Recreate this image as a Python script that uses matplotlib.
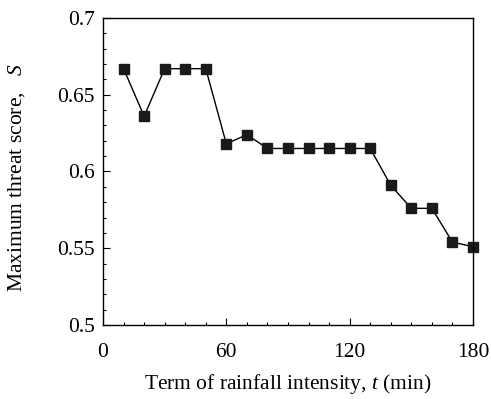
import matplotlib
matplotlib.use('Agg')
import matplotlib.pyplot as plt
from matplotlib.ticker import MultipleLocator

# Maximum threat score vs term of rainfall intensity
terms = [10, 20, 30, 40, 50, 60, 70, 80, 90, 100, 110, 120, 130, 140, 150, 160, 170, 180]
scores = [0.667, 0.636, 0.667, 0.667, 0.667, 0.618, 0.624, 0.615, 0.615, 0.615,
          0.615, 0.615, 0.615, 0.591, 0.576, 0.576, 0.554, 0.551]

plt.rcParams['font.family'] = ['Liberation Serif', 'DejaVu Serif']
plt.rcParams['mathtext.fontset'] = 'custom'
plt.rcParams['mathtext.rm'] = 'Liberation Serif'
plt.rcParams['mathtext.it'] = 'Liberation Serif:italic'

fig = plt.figure(figsize=(4.91, 3.99), dpi=100)
ax = fig.add_axes([103 / 491, 74 / 399, 370 / 491, 307 / 399])

ax.plot(terms, scores, color='black', linewidth=1.0, marker='s', markersize=7,
        markerfacecolor='#1a1a1a', markeredgecolor='#1a1a1a', clip_on=False)

ax.set_xlim(0, 180)
ax.set_ylim(0.5, 0.7)
ax.set_xticks([0, 60, 120, 180])
ax.set_yticks([0.5, 0.55, 0.6, 0.65, 0.7])
ax.set_yticklabels(['0.5', '0.55', '0.6', '0.65', '0.7'])
ax.xaxis.set_minor_locator(MultipleLocator(10))
ax.yaxis.set_minor_locator(MultipleLocator(0.01))
ax.tick_params(which='both', direction='in', labelsize=15.5, width=0.8)
ax.tick_params(which='major', length=5)
ax.tick_params(which='minor', length=2.5)
ax.tick_params(axis='x', pad=13)
ax.tick_params(axis='y', pad=6)
for s in ax.spines.values():
    s.set_linewidth(1.0)

ax.set_xlabel('Term of rainfall intensity, $t$ (min)', fontsize=15.5, labelpad=7)
ax.set_ylabel('Maximum threat score,   $S$', fontsize=15.5)
ax.yaxis.set_label_coords(-0.205, 0.48)

fig.savefig('out.png', dpi=100)
